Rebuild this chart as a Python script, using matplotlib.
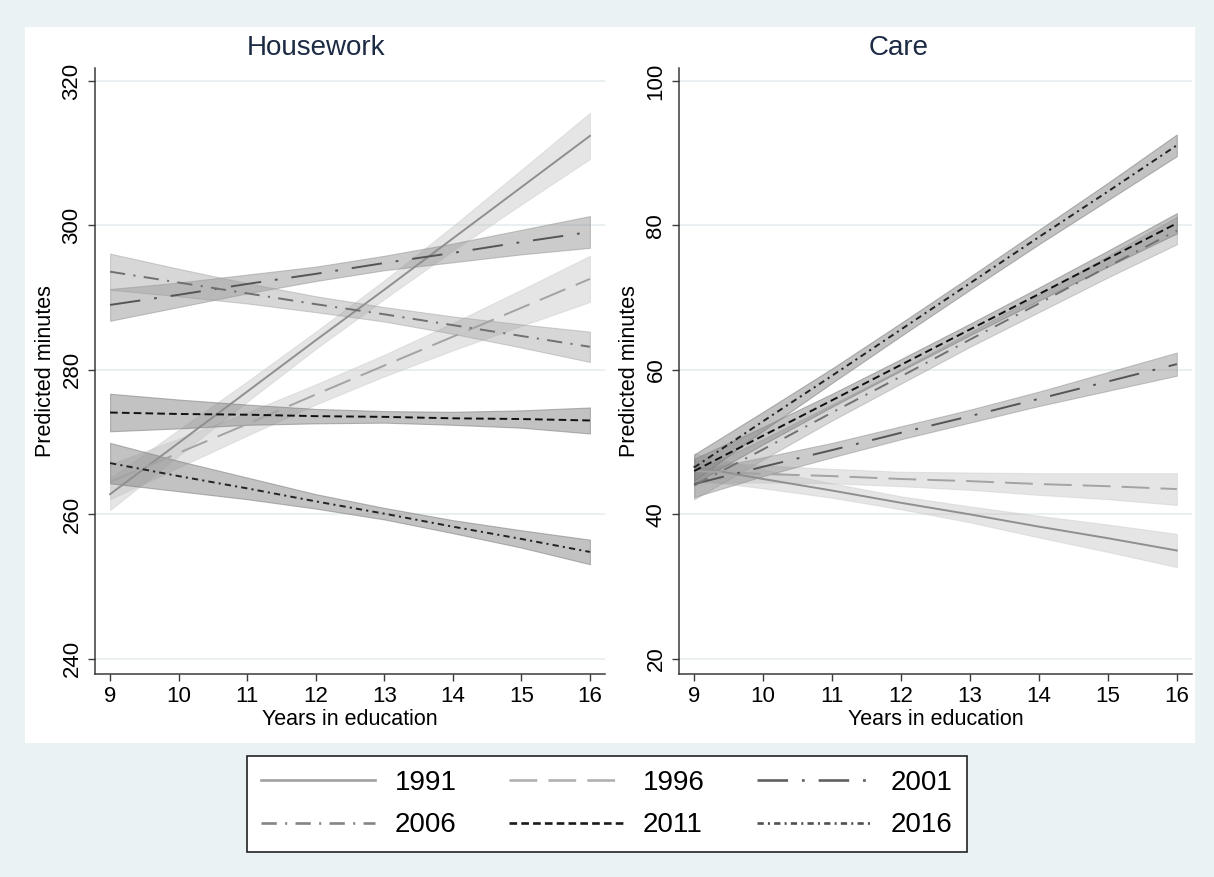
import numpy as np
import matplotlib
matplotlib.use("Agg")
import matplotlib.pyplot as plt
from matplotlib.patches import Rectangle
from matplotlib.lines import Line2D

plt.rcParams['font.family'] = ['Liberation Sans', 'DejaVu Sans']
plt.rcParams['lines.scale_dashes'] = False

# years in education (x values of the margins)
years_edu = [9, 10, 11, 12, 13, 14, 15, 16]
cohorts = ['1991', '1996', '2001', '2006', '2011', '2016']

# housework: predicted minutes and CI half widths
hw_1991 = [262.8, 269.9, 277.0, 284.1, 291.1, 298.2, 305.3, 312.4]
hw_1991_ci = [2.2, 1.8, 1.4, 1.2, 1.3, 1.7, 2.4, 3.2]
hw_1996 = [264.5, 268.5, 272.5, 276.6, 280.6, 284.6, 288.6, 292.6]
hw_1996_ci = [2.4, 2.0, 1.6, 1.4, 1.5, 1.9, 2.5, 3.2]
hw_2001 = [289.0, 290.4, 291.9, 293.3, 294.8, 296.2, 297.7, 299.1]
hw_2001_ci = [2.2, 1.7, 1.3, 1.0, 1.0, 1.3, 1.7, 2.2]
hw_2006 = [293.6, 292.1, 290.6, 289.1, 287.7, 286.2, 284.7, 283.2]
hw_2006_ci = [2.5, 1.9, 1.4, 1.1, 1.0, 1.2, 1.6, 2.1]
hw_2011 = [274.1, 273.9, 273.8, 273.6, 273.5, 273.3, 273.2, 273.0]
hw_2011_ci = [2.6, 2.0, 1.4, 1.0, 0.8, 0.9, 1.2, 1.8]
hw_2016 = [267.1, 265.3, 263.6, 261.8, 260.1, 258.3, 256.6, 254.8]
hw_2016_ci = [2.8, 2.1, 1.5, 1.0, 0.8, 0.9, 1.2, 1.7]

# care: predicted minutes and CI half widths
care_1991 = [46.6, 44.9, 43.3, 41.6, 40.0, 38.3, 36.7, 35.0]
care_1991_ci = [1.8, 1.3, 1.0, 0.9, 1.1, 1.5, 1.9, 2.3]
care_1996 = [46.0, 45.6, 45.3, 44.9, 44.6, 44.2, 43.9, 43.5]
care_1996_ci = [1.6, 1.2, 1.0, 1.0, 1.2, 1.5, 1.8, 2.2]
care_2001 = [44.2, 46.6, 48.9, 51.3, 53.6, 56.0, 58.4, 60.8]
care_2001_ci = [1.8, 1.3, 1.0, 0.9, 0.9, 1.0, 1.3, 1.6]
care_2006 = [44.0, 49.0, 54.1, 59.1, 64.2, 69.2, 74.3, 79.3]
care_2006_ci = [1.9, 1.4, 1.1, 1.0, 1.0, 1.2, 1.5, 1.9]
care_2011 = [46.0, 50.9, 55.8, 60.7, 65.6, 70.5, 75.4, 80.3]
care_2011_ci = [1.7, 1.2, 0.9, 0.8, 0.8, 0.9, 1.1, 1.4]
care_2016 = [46.5, 52.9, 59.2, 65.6, 72.0, 78.4, 84.7, 91.1]
care_2016_ci = [1.8, 1.3, 1.0, 0.9, 0.9, 1.0, 1.2, 1.5]

housework = [(hw_1991, hw_1991_ci), (hw_1996, hw_1996_ci), (hw_2001, hw_2001_ci),
             (hw_2006, hw_2006_ci), (hw_2011, hw_2011_ci), (hw_2016, hw_2016_ci)]
care = [(care_1991, care_1991_ci), (care_1996, care_1996_ci), (care_2001, care_2001_ci),
        (care_2006, care_2006_ci), (care_2011, care_2011_ci), (care_2016, care_2016_ci)]

# styles (stata mono-ish)
line_colors = ['#8f8f8f', '#a3a3a3', '#555555', '#707070', '#111111', '#222222']
legend_colors = ['#a0a0a0', '#b0b0b0', '#606060', '#858585', '#1a1a1a', '#505050']
dashes = ['-', (0, (20, 8)), (0, (22, 10, 2, 10)), (0, (11, 6, 1.5, 6)),
          (0, (5.5, 3)), (0, (4.5, 3, 1.5, 3))]
band_face = ['#bdbdbd', '#bdbdbd', '#8c8c8c', '#a0a0a0', '#8a8a8a', '#8a8a8a']
band_alpha = [0.38, 0.38, 0.45, 0.42, 0.52, 0.52]
band_edge = ['#c4c4c4', '#c4c4c4', '#8a8a8a', '#999999', '#7a7a7a', '#7a7a7a']

W, H = 1214, 877
fig = plt.figure(figsize=(W / 100, H / 100), dpi=100, facecolor='#EAF2F3')
fig.patches.append(Rectangle((25 / W, 1 - 743 / H), 1170 / W, 716 / H,
                             transform=fig.transFigure, facecolor='white',
                             edgecolor='none', zorder=-10))

ax1 = fig.add_axes([95 / W, 1 - 674 / H, 510 / W, 606 / H])
ax2 = fig.add_axes([679 / W, 1 - 674 / H, 513 / W, 606 / H])

x = np.array(years_edu)
for ax, data, ylim, yticks in [(ax1, housework, (237.9, 321.8), [240, 260, 280, 300, 320]),
                               (ax2, care, (17.9, 101.8), [20, 40, 60, 80, 100])]:
    ax.set_facecolor('white')
    for i, (est, ci) in enumerate(data):
        est = np.array(est)
        ci = np.array(ci)
        ax.fill_between(x, est - ci, est + ci, facecolor=band_face[i], alpha=band_alpha[i],
                        edgecolor=band_edge[i], linewidth=0.8, zorder=2)
    for i, (est, ci) in enumerate(data):
        ax.plot(x, est, color=line_colors[i], linestyle=dashes[i], linewidth=1.4, zorder=3)

    ax.set_xlim(8.78, 16.22)
    ax.set_ylim(*ylim)
    ax.set_xticks(years_edu)
    ax.set_yticks(yticks)
    ax.grid(axis='y', color='#E6EEF0', linewidth=1.2, zorder=0)
    ax.set_axisbelow(True)
    for s in ['top', 'right']:
        ax.spines[s].set_visible(False)
    for s in ['left', 'bottom']:
        ax.spines[s].set_color('#3a3a3a')
        ax.spines[s].set_linewidth(1.1)
    ax.tick_params(length=5, width=1, color='#3a3a3a', labelsize=16, pad=4)
    for lab in ax.get_yticklabels():
        lab.set_rotation(90)
        lab.set_va('center')
    ax.set_xlabel('Years in education', fontsize=15.5, labelpad=1)
    ax.set_ylabel('Predicted minutes', fontsize=15.5)
    ax.yaxis.set_label_coords(-0.076, 0.5)

fig.text(316 / W, 1 - 48 / H, 'Housework', fontsize=20, color='#1c2a44', ha='center', va='center')
fig.text(899 / W, 1 - 48 / H, 'Care', fontsize=20, color='#1c2a44', ha='center', va='center')

# legend filled row by row like stata (matplotlib fills columns first)
handles = [Line2D([0], [0], color=legend_colors[i], linestyle=dashes[i], linewidth=1.9)
           for i in range(6)]
order = [0, 3, 1, 4, 2, 5]
leg = fig.legend([handles[i] for i in order], [cohorts[i] for i in order],
                 loc='center', bbox_to_anchor=(607 / W, 1 - 804 / H),
                 ncol=3, fontsize=20, frameon=True, fancybox=False, handlelength=4.1,
                 handletextpad=0.7, columnspacing=1.9, borderpad=0.5, labelspacing=0.6,
                 borderaxespad=0)
leg.get_frame().set_edgecolor('#222222')
leg.get_frame().set_linewidth(1.2)
leg.get_frame().set_facecolor('white')
leg.get_frame().set_alpha(1)

fig.savefig('out.png', dpi=100, facecolor=fig.get_facecolor())
